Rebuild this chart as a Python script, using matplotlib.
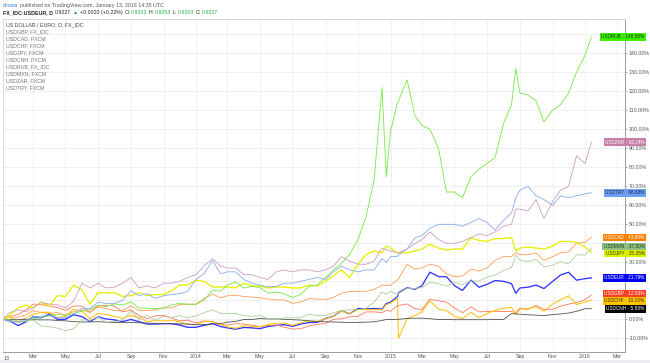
import matplotlib
matplotlib.use('Agg')
import matplotlib.pyplot as plt
import pandas as pd
from matplotlib.patches import Rectangle

plt.rcParams['font.family'] = ['Liberation Sans', 'DejaVu Sans']

W, H = 650, 363

# ---------------- data (percent change since Jan 2013) ----------------
dates = pd.to_datetime([
    '2013-01-03', '2013-01-16', '2013-02-01', '2013-02-16', '2013-03-01', '2013-03-16',
    '2013-04-01', '2013-04-16', '2013-05-01', '2013-05-16', '2013-06-01', '2013-06-16',
    '2013-07-01', '2013-07-16', '2013-08-01', '2013-08-16', '2013-09-01', '2013-09-16',
    '2013-10-01', '2013-10-16', '2013-11-01', '2013-11-16', '2013-12-01', '2013-12-16',
    '2014-01-01', '2014-01-16', '2014-02-01', '2014-02-16', '2014-03-01', '2014-03-16',
    '2014-04-01', '2014-04-16', '2014-05-01', '2014-05-16', '2014-06-01', '2014-06-16',
    '2014-07-01', '2014-07-16', '2014-08-01', '2014-08-16', '2014-09-01', '2014-09-16',
    '2014-10-01', '2014-10-16', '2014-11-01', '2014-11-16', '2014-12-01', '2014-12-16',
    '2014-12-24',
    '2015-01-01', '2015-01-14', '2015-01-16', '2015-02-01', '2015-02-16', '2015-03-01',
    '2015-03-16', '2015-04-01', '2015-04-16', '2015-05-01', '2015-05-16', '2015-06-01',
    '2015-06-16', '2015-07-01', '2015-07-16', '2015-08-01', '2015-08-16', '2015-08-24',
    '2015-09-01', '2015-09-16', '2015-10-01', '2015-10-16', '2015-11-01', '2015-11-16',
    '2015-12-01', '2015-12-16',
    '2016-01-01', '2016-01-13'])

usdeur = [0, -0.7, -3.3, -1.3, 1.3, 0.8, 2.7, 0, 0, 2.4, 1.4, -1.2, 1.3, 0.2, -0.3, -1.2, -0.1, -1.2, -2.5, -2.5, -2.3, -2.3, -3, -4.2,
          -4.2, -3.2, -2.3, -3.8, -4.5, -5.2, -4.3, -4.5, -4.9, -3.8, -3.2, -2.8, -3.7, -2.5, -1.7, -1.6, 0.4, 1.7, 4.5, 2.9, 5.7, 5.5, 5.7, 5.4, 8.3,
          9, 12, 14, 16.6, 15.8, 17.7, 24.8, 22.5, 22.4, 17.7, 15.2, 20.6, 16.9, 18.4, 20.4, 20, 18.8, 13.7, 16.5, 16.9, 18, 16.2, 19.9, 23.3, 24.8, 20.6,
          21.4, 21.79]
usdgbp = [0, 1.3, 2.6, 4.9, 8, 7.7, 7, 6.2, 4.7, 7, 7, 3.7, 7, 7.4, 7, 3.9, 4.9, 2, 0.3, 1.8, 2.1, 0.8, -0.8, -0.4,
          -1.8, -0.9, -1.1, -2.8, -3, -2.3, -2.5, -3.1, -3.8, -3.2, -3, -4.2, -5.1, -5, -3.5, -2.6, -2.1, 0, 0.3, 1.3, 1.6, 3.9, 3.9, 3.5, 4.7,
          4.3, 7.2, 7.3, 8.1, 5.6, 5.2, 10.6, 9.8, 9.1, 5.9, 3.5, 6.5, 3.9, 4.1, 4.2, 4.1, 4.1, 3.5, 5.9, 5.2, 7.4, 5.2, 5.3, 6.9, 8, 8.8,
          10.3, 12.83]
usdcad = [0, 0, 1.2, 2.3, 4.6, 3.6, 3, 3.6, 2.3, 4, 5, 3.6, 6.6, 5.6, 4.6, 4.6, 7.1, 4.6, 4.6, 5, 6, 6, 7.8, 8,
          8, 11, 13.2, 11.4, 12.4, 12.7, 12, 11.7, 11.4, 10.7, 10.2, 10.2, 8.4, 9.1, 10.9, 10.7, 10.4, 11.5, 13.7, 14.7, 14.7, 14.7, 15.7, 18, 17.8,
          18, 20.8, 21.3, 29, 26.4, 27, 29, 28, 23.9, 22.5, 22.8, 26.4, 25.4, 27, 31, 33, 33, 35, 34, 34, 35, 31, 33, 35, 35.5, 40,
          40.6, 43.08]
usdchf = [0, 1.5, -1.3, 0.7, 2.6, 3.7, 3.7, 0.9, 1.5, 5.3, 4.2, 0.4, 3.1, 2.6, 1.5, 0.6, 2, 0.9, -1.3, -0.6, -0.9, -0.5, -1.3, -2.6,
          -2.9, -1, -1.3, -2.6, -4, -4.7, -3.4, -3.8, -4, -2.7, -2, -2, -3.2, -1.9, -0.9, -1.1, 0.2, 1.7, 4.3, 2.9, 5.1, 5.1, 5.1, 5, 7.7,
          8.5, 11, -10, 0.4, 2, 4, 9.7, 5.3, 4.7, 1.5, 0.4, 3.7, 0.9, 3.1, 4.7, 5.8, 6.4, 2.5, 5.3, 5.8, 6.5, 4.2, 8, 10.2, 12.4, 7.8,
          9.1, 10.15]
usdjpy = [0, 2, 6, 7.5, 6, 9, 7, 12.5, 12, 18, 15.5, 8, 14, 14, 14, 12, 12.5, 14, 12.5, 13, 13, 15, 18, 18,
          20.5, 20, 17, 17, 17, 16.5, 19, 17.5, 17.5, 16.5, 17, 17, 16.5, 16.5, 18, 17.5, 20, 23, 26, 22, 29, 34, 36, 35, 38.5,
          37.5, 35, 35, 35, 36, 37, 39.5, 37.5, 36.5, 37, 37, 43, 41.5, 41, 42.5, 42.5, 43, 36, 37.5, 38, 37.5, 37, 38.5, 41, 41, 40.5,
          38, 35.35]
usdcnh = [0, -0.2, -0.2, 0, -0.2, -0.3, -0.3, -0.6, -0.8, -1.2, -1.4, -1.4, -1.2, -1.5, -1.7, -1.7, -1.7, -1.8, -2, -2.1, -2.2, -2.3, -2.4, -2.5,
          -2.8, -2.8, -2.4, -2.3, -1.5, -1.1, -0.1, -0.1, 0.4, 0.2, 0.2, 0, -0.2, -0.4, -0.8, -1.1, -1.3, -1.4, -1.5, -1.7, -1.6, -1.5, -1.3, -0.6, -0.1,
          -0.1, 0, 0, 0.5, 0.6, 0.6, 0.3, -0.1, -0.1, -0.2, -0.2, -0.2, -0.2, -0.2, -0.1, -0.1, 3, 2.8, 2.7, 2.4, 2.2, 2, 2.5, 2.8, 3.3, 4.2,
          5.6, 5.58]
usdrub = [0, -0.3, -1.6, -1, 0.3, 1, 2, 2.6, 2, 3, 4.3, 5, 7.5, 6.6, 8.2, 7.5, 9.2, 5.9, 5.9, 5.6, 5.9, 7.5, 8.5, 7.9,
          7.9, 10, 15.4, 14.8, 18, 19.7, 16.4, 17.4, 16.7, 13.8, 14.4, 13.4, 11.5, 13, 17.4, 18, 22, 26, 29.5, 34, 42, 54, 73, 122, 75,
          99, 114, 115, 126, 107, 102, 100, 90, 67, 67, 64, 75, 79, 82, 85, 103, 113, 132, 119, 118, 115, 104, 110, 113, 119, 130,
          139, 148.58]
usdmxn = [0, -1.5, -1, -1, -0.4, -3.5, -3.9, -4.7, -6, -5, -0.4, -0.4, 1.2, -1.5, -1.2, -0.4, 4.3, 0, 2, -0.4, 1.6, 0.8, 2, 0.8,
          1.8, 3.5, 5, 3.1, 3.1, 3.1, 2, 1.6, 2, 0.4, 0, 0.8, 0.8, 0.8, 2.7, 2, 2, 3.5, 4.7, 5, 5, 5.8, 9, 14.4, 13.2,
          14.8, 12.8, 13.6, 16.3, 16.3, 16.7, 19.5, 18.7, 17.5, 19.5, 18.3, 20.2, 20.2, 22.2, 23.3, 25.7, 27.2, 33.8, 31.1, 30.4, 31.5, 27.6, 28.4, 30.4, 29.2, 33.9,
          33.9, 37.5]
usdzar = [0, 3.5, 5, 4, 6, 9, 8, 7.6, 6, 9.4, 19, 16.5, 19, 16.5, 17, 19, 22, 16.5, 17.6, 16.5, 19, 19, 20, 22,
          23.5, 28, 32, 28, 27, 27, 23.5, 23.5, 22, 21, 25, 26, 25, 26, 26, 25, 26, 28, 33, 30.6, 29, 29, 30.6, 37.6, 36.5,
          36, 35, 35, 37, 40, 42, 46, 42, 40, 40, 41, 43, 45, 44, 46, 49, 50, 58, 58, 57, 63, 53, 62, 68, 70, 86,
          82, 93.24]
usdtry = [0, -0.8, -1.4, -0.5, 1, 1.7, 1.7, 1, 0.8, 2.8, 5.6, 5.6, 9, 8.4, 8.4, 10, 15, 12.4, 13.5, 11, 12.4, 13, 13.5, 14.6,
          21, 24, 31, 24, 25, 25, 21, 19, 18, 17, 17.4, 19, 19, 20, 21, 22, 21, 25, 28, 26, 25, 26, 26, 32, 30,
          33, 33, 34, 37, 43, 44, 48, 50, 50, 50, 49, 51, 53, 51, 47, 52, 56, 64, 68, 70, 65, 63, 60, 65, 64, 65,
          66, 66.63]

legend_lines = ['US DOLLAR / EURO, D, FX_IDC', 'USDGBP, FX_IDC', 'USDCAD, FXCM', 'USDCHF, FXCM',
                'USDJPY, FXCM', 'USDCNH, FXCM', 'USDRUB, FX_IDC', 'USDMXN, FXCM', 'USDZAR, FXCM',
                'USDTRY, FXCM']

y_ticks = list(range(-10, 151, 10))
x_tick_dates = pd.to_datetime(['2013-03-01', '2013-05-01', '2013-07-01', '2013-09-01', '2013-11-01',
                               '2014-01-01', '2014-03-01', '2014-05-01', '2014-07-01', '2014-09-01', '2014-11-01',
                               '2015-01-01', '2015-03-01', '2015-05-01', '2015-07-01', '2015-09-01', '2015-11-01',
                               '2016-01-01', '2016-03-01'])
x_tick_labels = ['Mar', 'May', 'Jul', 'Sep', 'Nov', '2014', 'Mar', 'May', 'Jul', 'Sep', 'Nov',
                 '2015', 'Mar', 'May', 'Jul', 'Sep', 'Nov', '2016', 'Mar']

# name, values, line colour, line width, tag bg, tag text colour
series = [
    ('USDEUR', usdeur, '#3535ff', 0.95, '#0000ee', 'white'),
    ('USDGBP', usdgbp, '#ff7658', 0.6, '#ff3d1f', 'white'),
    ('USDCAD', usdcad, '#ff9d55', 0.6, '#ff7f00', 'white'),
    ('USDCHF', usdchf, '#ffc20c', 0.75, '#ffc400', '#3a2a00'),
    ('USDJPY', usdjpy, '#e6ef00', 0.95, '#ddf000', '#3a3a00'),
    ('USDCNH', usdcnh, '#505050', 0.6, '#000000', 'white'),
    ('USDRUB', usdrub, '#72ea42', 0.6, '#3cee00', '#143c00'),
    ('USDMXN', usdmxn, '#abd098', 0.6, '#8fc082', '#1f3d1a'),
    ('USDZAR', usdzar, '#d09dbc', 0.6, '#c680a6', 'white'),
    ('USDTRY', usdtry, '#88abef', 0.6, '#6f9ff0', '#14244a'),
]

# ---------------- figure ----------------
fig = plt.figure(figsize=(W / 100, H / 100), dpi=100)
fig.patch.set_facecolor('white')
ax = fig.add_axes([3 / W, 11 / H, 622 / W, 333 / H])

for name, vals, col, lw, _, _ in series:
    ax.plot(dates, vals, color=col, lw=lw, solid_joinstyle='round')

ax.set_xlim(pd.Timestamp('2013-01-03 18:00'), pd.Timestamp('2016-03-16'))
ax.set_ylim(-17.2, 158.05)

ax.set_xticks(x_tick_dates)
ax.set_xticklabels(x_tick_labels)
ax.set_yticks(y_ticks)
ax.set_yticklabels(['%.2f%%' % v for v in y_ticks])
ax.yaxis.tick_right()
ax.tick_params(axis='x', length=0, pad=1.6, labelsize=3.8, labelcolor='#555555')
ax.tick_params(axis='y', length=1.6, width=0.5, color='#8a8a8a', pad=0.8,
               labelsize=3.8, labelcolor='#555555')
ax.grid(True, color='#ececec', lw=0.55)
ax.set_axisbelow(True)
for side in ['left', 'top']:
    ax.spines[side].set_color('#d4d4d4')
    ax.spines[side].set_linewidth(0.6)
for side in ['right', 'bottom']:
    ax.spines[side].set_color('#9c9c9c')
    ax.spines[side].set_linewidth(0.7)

# partially hidden first year label
ax.text(0.001, -0.0125, '13', transform=ax.transAxes, ha='left', va='top',
        fontsize=3.8, color='#555555')

# legend text inside the pane
for i, line in enumerate(legend_lines):
    fig.text(6 / W, 1 - (25 + 7 * i) / H, line, fontsize=3.75, va='center', ha='left',
             color='#444444' if i == 0 else '#777777')

# header lines
renderer = fig.canvas.get_renderer()


def chain(parts, x0, ybase, size):
    x = x0
    for txt, col, fw, gap in parts:
        x += gap
        t = fig.text(x / W, 1 - ybase / H, txt, color=col, fontsize=size, fontweight=fw,
                     va='baseline', ha='left')
        x += t.get_window_extent(renderer=renderer).width


chain([('chowa', '#2a7de1', 'normal', 0),
       ('published on TradingView.com, January 13, 2016 14:35 UTC', '#555555', 'normal', 1.3)],
      3, 6.6, 3.75)
green = '#22b14c'
chain([('FX_IDC:USDEUR, D', '#222222', 'bold', 0),
       ('0.9227', '#222222', 'normal', 2.2),
       ('\u25b2', green, 'normal', 1.6),
       ('+0.0020 (+0.22%)', '#222222', 'normal', 1.6),
       ('O:', '#222222', 'normal', 2.0), ('0.9203', green, 'normal', 0.4),
       ('H:', '#222222', 'normal', 2.0), ('0.9253', green, 'normal', 0.4),
       ('L:', '#222222', 'normal', 2.0), ('0.9203', green, 'normal', 0.4),
       ('C:', '#222222', 'normal', 2.0), ('0.9227', green, 'normal', 0.4)],
      3, 14.3, 3.75)

# value tags on the right, positioned from last values, spread to avoid overlap
fig.canvas.draw()
ypos = {}
for name, vals, *_ in series:
    ypos[name] = ax.transData.transform((ax.get_xlim()[1], vals[-1]))[1]
order = sorted(ypos, key=lambda k: -ypos[k])
min_gap = 7.0
for _ in range(100):
    for a, b in zip(order[:-1], order[1:]):
        gap = ypos[a] - ypos[b]
        if gap < min_gap:
            d = (min_gap - gap) / 2
            ypos[a] += d
            ypos[b] -= d
for name, vals, col, lw, bg, tc in series:
    fig.text(644.5 / W, ypos[name] / H, '%s \u00b7 %.2f%%' % (name, vals[-1]),
             ha='right', va='center', fontsize=3.4, color=tc,
             bbox=dict(boxstyle='square,pad=0.28', fc=bg, ec='none'))

# axis labels that sit under a tag are covered in the original: hide them
for tick_val, lab in zip(y_ticks, ax.get_yticklabels()):
    ty = ax.transData.transform((0, tick_val))[1]
    if any(abs(ty - yy) < 6.0 for yy in ypos.values()):
        lab.set_visible(False)

# bottom grey strip
fig.patches.append(Rectangle((0, 0), 1, 3 / H, transform=fig.transFigure,
                             facecolor='#eceef1', edgecolor='none', zorder=-1))

fig.savefig('out.png', dpi=100, facecolor='white')
